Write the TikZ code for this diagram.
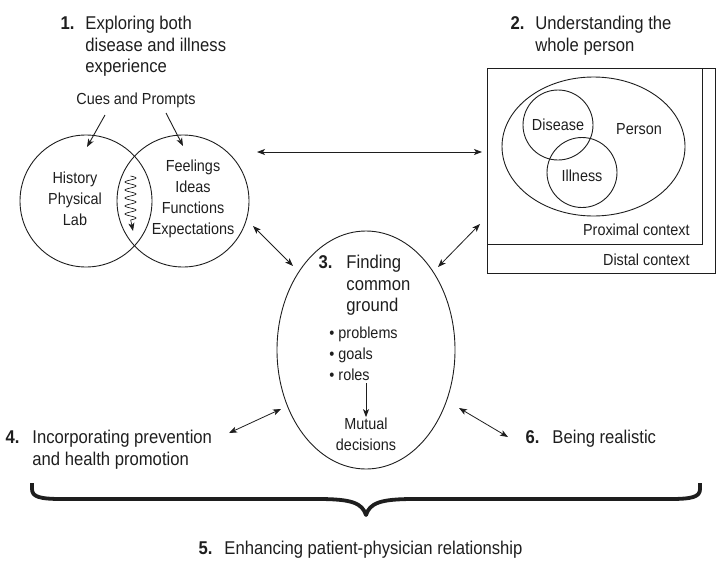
\documentclass[tikz,border=0pt]{standalone}
\usepackage{fontspec}
\setmainfont[FakeStretch=0.9]{Liberation Sans}
\usetikzlibrary{arrows.meta,shapes.geometric}
\definecolor{figInk}{HTML}{1E1E1E}

\begin{document}
\begin{tikzpicture}[x=1pt, y=-1pt,
  >={Stealth[length=8pt,width=6pt,inset=2pt]},
  line width=0.9pt, draw=figInk,
  every node/.style={inner sep=0pt, text=figInk},
  titletext/.style={font=\fontsize{18.5}{21.5}\selectfont, align=left, anchor=north west},
  titlenum/.style={font=\fontsize{18.5}{21.5}\selectfont\bfseries, anchor=north east},
  lbl/.style={font=\fontsize{16}{21}\selectfont, align=center},
  ring/.style={circle, draw, minimum size=#1},
  oval/.style={ellipse, draw},
  link/.style={<->, line width=0.8pt},
]
\useasboundingbox (0,0) rectangle (727,581);

% ======= 1. Disease and illness =======
\node[titlenum] (n1) at (75,16) {1.};
\node[titletext] (t1) at (85,16) {Exploring both\\disease and illness\\experience};
\node[lbl] (cues) at (136,100) {Cues and Prompts};
\node[ring=132pt] (disease) at (86,201) {};
\node[ring=132pt] (illness) at (183,201) {};
\node[lbl] (histtext) at (75,199) {History\\Physical\\Lab};
\node[lbl] (feeltext) at (193,199) {Feelings\\Ideas\\Functions\\Expectations};
\coordinate (cuesL) at (105,115);
\coordinate (cuesR) at (166,113);
\draw[->] (cuesL) -- (87,147);
\draw[->] (cuesR) -- (183,146);
% zigzag through the overlap
\draw[->, line width=0.7pt] plot[smooth, domain=0:1, samples=140, variable=\t]
  ({130.5+5.5*sin(\t*1980)}, {176+44*\t}) -- (133,231);

% ======= 2. Whole person =======
\node[titlenum] (n2) at (525,16) {2.};
\node[titletext] (t2) at (535,16) {Understanding the\\whole person};
\draw (487,68) rectangle (715,273);
\draw (487,68) rectangle (702,244);
\node[oval, minimum width=183pt, minimum height=139pt] (person) at (593.5,146.5) {};
\node[ring=70pt] (dis) at (558,125) {};
\node[ring=70pt] (ill) at (582,172.5) {};
\node[lbl] at (558,125) {Disease};
\node[lbl] at (582,176) {Illness};
\node[lbl] at (639,129) {Person};
\node[lbl, anchor=east] (prox) at (690,230) {Proximal context};
\node[lbl, anchor=east] (dist) at (690,260) {Distal context};

% ======= 3. Common ground =======
\node[oval, minimum width=178pt, minimum height=238pt] (common) at (366,350) {};
\node[titlenum] (n3) at (333,255) {3.};
\node[titletext] (t3) at (346,255) {Finding\\common\\ground};
\node[lbl, align=left, anchor=west] (goals) at (329,354)
  {\textbullet\ problems\\\textbullet\ goals\\\textbullet\ roles};
\node[lbl] (mutual) at (366,434) {Mutual\\decisions};
\draw[->] (goals.south -| mutual) ++(0,2) -- (mutual.north);

% ======= 4. and 6. =======
\node[titlenum] (n4) at (20,430) {4.};
\node[titletext] (t4) at (32,430) {Incorporating prevention\\and health promotion};
\node[titlenum] (n6) at (540,430) {6.};
\node[titletext] (t6) at (552,430) {Being realistic};

% ======= connectors =======
\coordinate (aL) at (257,152);  \coordinate (aR) at (482,152);
\coordinate (bL) at (253,226);  \coordinate (bR) at (293,266);
\coordinate (cL) at (438,267);  \coordinate (cR) at (480,224);
\coordinate (dL) at (229,433);  \coordinate (dR) at (281,409);
\coordinate (eL) at (459,408);  \coordinate (eR) at (508,437);
\draw[link] (aL) -- (aR);
\draw[link] (bL) -- (bR);
\draw[link] (cL) -- (cR);
\draw[link] (dL) -- (dR);
\draw[link] (eL) -- (eR);

% ======= 5. Relationship =======
\draw[line width=3.8pt, line join=round] (32,483) -- (32,489)
  .. controls (32,497) and (40,499) .. (62,499) -- (318,499)
  .. controls (352,499) and (362,503) .. (366,515)
  .. controls (370,503) and (380,499) .. (414,499) -- (670,499)
  .. controls (692,499) and (700,497) .. (700,489) -- (700,483);
\node[titlenum] (n5) at (213,541) {5.};
\node[titletext] (t5) at (224,541) {Enhancing patient-physician relationship};

\end{tikzpicture}
\end{document}
